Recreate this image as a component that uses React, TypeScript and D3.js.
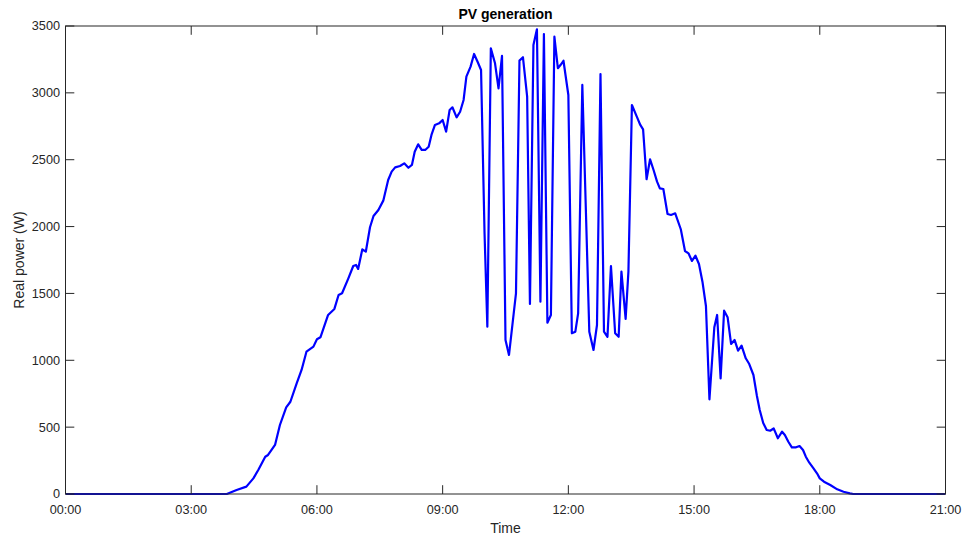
import React from "react";
import * as d3 from "d3";

// time in minutes after midnight
const minutes = [
  0, 231, 245, 259, 269, 276, 286, 290, 300, 307, 316, 322, 331, 338, 345, 355, 360, 365, 376, 385,
  391, 396, 405, 412, 416, 419, 425, 430, 436, 441, 448, 455, 462, 467, 472, 479, 485, 491, 496, 500,
  505, 510, 515, 520, 524, 529, 535, 540, 545, 550, 554, 560, 565, 570, 574, 580, 585, 590, 595, 600,
  604, 609, 615, 620, 625, 630, 635, 645, 650, 655, 661, 665, 670, 675, 680, 685, 690, 695, 700, 705,
  709, 713, 720, 725, 730, 734, 740, 750, 756, 761, 766, 771, 776, 781, 787, 792, 796, 802, 806, 811,
  818, 823, 827, 832, 837, 842, 847, 851, 856, 862, 867, 873, 881, 887, 892, 897, 902, 907, 912, 917,
  922, 929, 933, 938, 943, 948, 953, 958, 963, 968, 974, 979, 985, 990, 994, 999, 1004, 1009, 1014, 1020,
  1026, 1030, 1035, 1040, 1046, 1051, 1056, 1060, 1065, 1071, 1076, 1080, 1086, 1095, 1105, 1114, 1123, 1128, 1260,
];
const power = [
  0, 0, 30, 55, 117, 180, 279, 292, 367, 516, 648, 690, 828, 928, 1064, 1102, 1157, 1172, 1339, 1384,
  1488, 1501, 1613, 1705, 1713, 1683, 1830, 1812, 1995, 2079, 2124, 2194, 2348, 2411, 2443, 2453, 2473, 2440, 2461, 2560,
  2615, 2573, 2573, 2597, 2685, 2760, 2772, 2797, 2710, 2872, 2892, 2817, 2859, 2947, 3121, 3196, 3291, 3233, 3171, 1950,
  1251, 3333, 3221, 3034, 3276, 1152, 1040, 1501, 3241, 3266, 2971, 1421, 3358, 3475, 1438, 3440, 1281, 1339, 3420, 3184,
  3210, 3240, 2984, 1202, 1214, 1351, 3059, 1214, 1077, 1264, 3141, 1214, 1176, 1705, 1202, 1176, 1663, 1309, 1663, 2909,
  2822, 2760, 2727, 2354, 2503, 2423, 2336, 2286, 2281, 2094, 2087, 2099, 1980, 1817, 1800, 1743, 1782, 1720, 1588, 1406,
  708, 1247, 1339, 865, 1371, 1322, 1122, 1152, 1072, 1109, 1015, 972, 890, 733, 628, 531, 479, 473, 491, 417,
  466, 441, 391, 349, 349, 359, 329, 279, 234, 192, 155, 117, 92, 67, 35, 17, 5, 0, 0,
];
const xTickMinutes = [0, 180, 360, 540, 720, 900, 1080, 1260];
const xTickLabels = ["00:00", "03:00", "06:00", "09:00", "12:00", "15:00", "18:00", "21:00"];
const yTicks = [0, 500, 1000, 1500, 2000, 2500, 3000, 3500];
const titleText = "PV generation";
const xLabelText = "Time";
const yLabelText = "Real power (W)";

const W = 966;
const H = 537;
const L = 65.5;
const R = 945.5;
const T = 26;
const B = 494;
const AX = "#262626";
const FONT = "'Liberation Sans', Arial, Helvetica, sans-serif";
const TL = 8.8;

export default function App() {
  const x = d3.scaleLinear().domain([0, 1260]).range([L, R]);
  const y = d3.scaleLinear().domain([0, 3500]).range([B, T]);
  const pts = minutes.map((m, i) => [m, power[i]] as [number, number]);
  const line = d3
    .line<[number, number]>()
    .x((d) => x(d[0]))
    .y((d) => y(d[1]));

  return (
    <svg
      width={W}
      height={H}
      style={{ position: "absolute", left: 0, top: 0, background: "#fff" }}
      fontFamily={FONT}
    >
      <rect x={0} y={0} width={W} height={H} fill="#fff" />
      <defs>
        <clipPath id="plotclip">
          <rect x={L} y={T - 2} width={R - L} height={B - T + 4} />
        </clipPath>
      </defs>
      <path
        d={line(pts) || ""}
        fill="none"
        stroke="#0000ff"
        strokeWidth={2.2}
        strokeLinejoin="round"
        clipPath="url(#plotclip)"
      />
      {/* box */}
      <rect x={L} y={T} width={R - L} height={B - T} fill="none" stroke={AX} strokeWidth={1} />
      {/* x ticks */}
      {xTickMinutes.map((m, i) => (
        <g key={"xt" + i}>
          <line x1={x(m)} x2={x(m)} y1={B} y2={B - TL} stroke={AX} strokeWidth={1} />
          <line x1={x(m)} x2={x(m)} y1={T} y2={T + TL} stroke={AX} strokeWidth={1} />
          <text x={x(m)} y={514} textAnchor="middle" fontSize={12.7} fill={AX}>
            {xTickLabels[i]}
          </text>
        </g>
      ))}
      {/* y ticks */}
      {yTicks.map((v, i) => (
        <g key={"yt" + i}>
          <line x1={L} x2={L + TL} y1={y(v)} y2={y(v)} stroke={AX} strokeWidth={1} />
          <line x1={R} x2={R - TL} y1={y(v)} y2={y(v)} stroke={AX} strokeWidth={1} />
          <text x={60} y={y(v)} dy="0.35em" textAnchor="end" fontSize={12.7} fill={AX}>
            {v}
          </text>
        </g>
      ))}
      <text x={(L + R) / 2} y={19} textAnchor="middle" fontSize={14} fontWeight="bold" fill="#000">
        {titleText}
      </text>
      <text x={(L + R) / 2} y={533} textAnchor="middle" fontSize={14} fill={AX}>
        {xLabelText}
      </text>
      <text
        transform={`translate(24,${(T + B) / 2}) rotate(-90)`}
        textAnchor="middle"
        fontSize={14}
        fill={AX}
      >
        {yLabelText}
      </text>
    </svg>
  );
}
